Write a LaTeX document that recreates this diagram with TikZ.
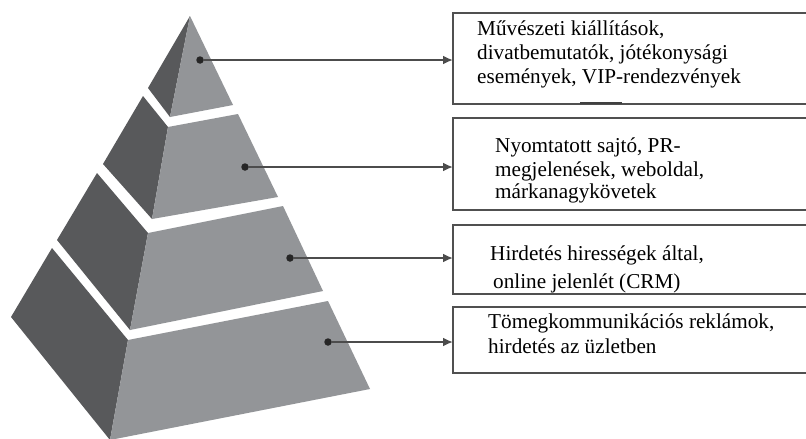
\documentclass[tikz,border=0pt]{standalone}
\usepackage{fontspec}
\setmainfont{Liberation Serif}
\usetikzlibrary{arrows.meta}
\definecolor{darkface}{HTML}{58595B}
\definecolor{lightface}{HTML}{939598}
\definecolor{boxline}{HTML}{505050}
\begin{document}
\begin{tikzpicture}[x=1pt,y=-1pt,
  infobox/.style={draw=boxline,line width=1.5pt,fill=none,inner sep=0pt,outer sep=0pt,anchor=north west,minimum width=370pt},
  dotnode/.style={circle,fill=black!85,inner sep=0pt,minimum size=7.5pt},
  linetext/.style={anchor=base west,inner sep=0pt,font=\fontsize{21.2}{24}\selectfont},
  conn/.style={draw=black!70,line width=2.2pt,-{Latex[length=10pt,width=9pt]}}]
\clip (0,0) rectangle (806,439);
\fill[white] (0,0) rectangle (806,439);
% pyramid
\fill[darkface] (190,16) -- (148,88) -- (170,117) -- cycle;
\fill[lightface] (190,16) -- (233,105) -- (170,117) -- cycle;
\fill[darkface] (143,96) -- (103,164) -- (152,219) -- (168,127) -- cycle;
\fill[lightface] (168,127) -- (238,114) -- (278,197) -- (152,219) -- cycle;
\fill[darkface] (97,173) -- (57,240) -- (130,330) -- (148,233) -- cycle;
\fill[lightface] (148,233) -- (283,206) -- (323,291) -- (130,330) -- cycle;
\fill[darkface] (52,248) -- (11,317) -- (110,440) -- (128,340) -- cycle;
\fill[lightface] (128,340) -- (328,301) -- (370,389) -- (110,440) -- cycle;
% dots
\node[dotnode] (d1) at (200,60) {};
\node[dotnode] (d2) at (245,167) {};
\node[dotnode] (d3) at (290,258) {};
\node[dotnode] (d4) at (328,342) {};
% boxes
\node[infobox,minimum height=91pt] (b1) at (453,13) {};
\node[infobox,minimum height=92pt] (b2) at (453,118) {};
\node[infobox,minimum height=69pt] (b3) at (453,225) {};
\node[infobox,minimum height=66pt] (b4) at (453,307) {};
\coordinate (m1) at (580,103);
\coordinate (m2) at (622,103);
\draw[black!75,line width=2pt] (m1) -- (m2);
% connectors
\draw[conn] (d1) -- (d1 -| b1.west);
\draw[conn] (d2) -- (d2 -| b2.west);
\draw[conn] (d3) -- (d3 -| b3.west);
\draw[conn] (d4) -- (d4 -| b4.west);
% texts
\node[linetext] (t1a) at (477,35) {Művészeti kiállítások,};
\node[linetext] (t1b) at (477,59) {divatbemutatók, jótékonysági};
\node[linetext] (t1c) at (477,83) {események, VIP-rendezvények};
\node[linetext] (t2a) at (495,152) {Nyomtatott sajtó, PR-};
\node[linetext] (t2b) at (495,176) {megjelenések, weboldal,};
\node[linetext] (t2c) at (495,198) {márkanagykövetek};
\node[linetext] (t3a) at (490,260) {Hirdetés hirességek által,};
\node[linetext] (t3b) at (493,288) {online jelenlét (CRM)};
\node[linetext] (t4a) at (488,328) {Tömegkommunikációs reklámok,};
\node[linetext] (t4b) at (488,353) {hirdetés az üzletben};
\end{tikzpicture}
\end{document}
